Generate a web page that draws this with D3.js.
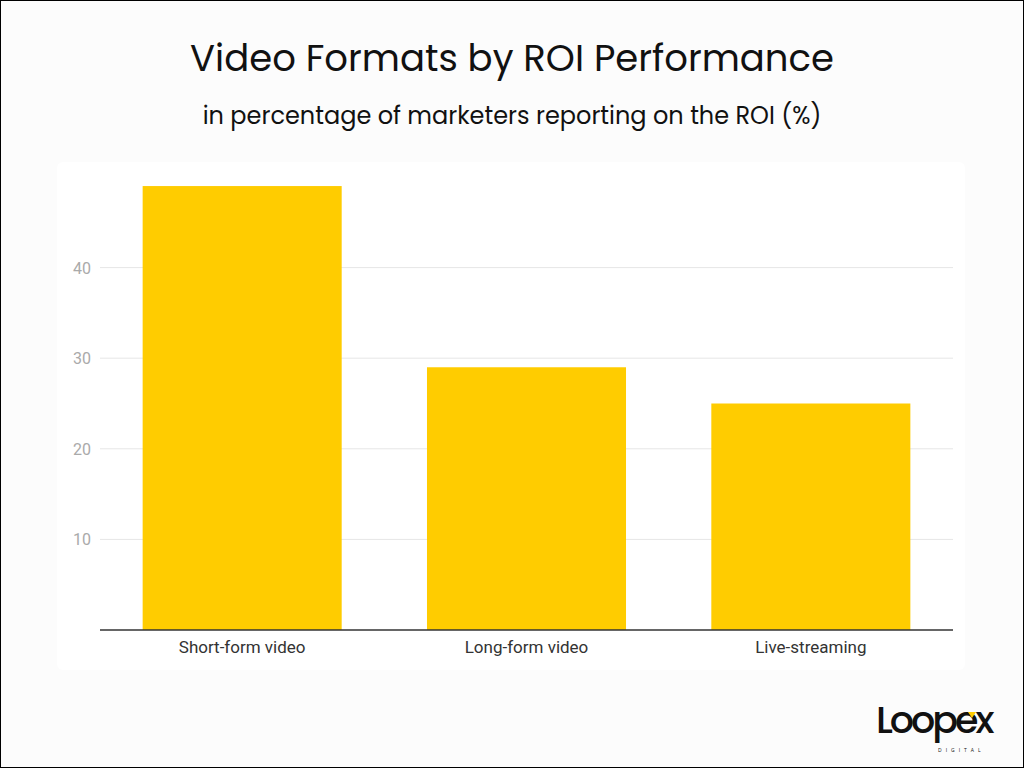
<!DOCTYPE html>
<html><head><meta charset="utf-8">
<script src="https://cdn.jsdelivr.net/npm/d3@7"></script>
<style>body{margin:0;background:#fcfcfc}</style>
</head><body>
<script>
// chart data
const categories = ["Short-form video", "Long-form video", "Live-streaming"];
const values = [49, 29, 25];
const ticks = [10, 20, 30, 40];

const svg = d3.select("body").append("svg")
  .attr("width", 1024).attr("height", 768);

svg.append("rect").attr("x", 0.5).attr("y", 0.5).attr("width", 1023).attr("height", 767)
  .attr("fill", "#fcfcfc").attr("stroke", "#000");

svg.append("text").attr("x", 512).attr("y", 71).attr("text-anchor", "middle")
  .style("font-family", "Poppins, Lato, sans-serif").style("font-size", "37px").attr("fill", "#111")
  .text("Video Formats by ROI Performance");
svg.append("text").attr("x", 512).attr("y", 124).attr("text-anchor", "middle")
  .style("font-family", "Poppins, Lato, sans-serif").style("font-size", "24px").attr("fill", "#111")
  .text("in percentage of marketers reporting on the ROI (%)");

// inner panel
svg.append("rect").attr("x", 57).attr("y", 162).attr("width", 908).attr("height", 508)
  .attr("rx", 6).attr("fill", "#fff");

const x = d3.scaleBand().domain(categories).range([100, 953]).paddingInner(0.3).paddingOuter(0.15);
const y = d3.scaleLinear().domain([0, 50]).range([630, 177]);

const g = svg.append("g");
g.selectAll(".grid").data(ticks).join("line")
  .attr("x1", 100).attr("x2", 953).attr("y1", d => y(d)).attr("y2", d => y(d))
  .attr("stroke", "#e6e6e6");
g.selectAll(".tick").data(ticks).join("text")
  .attr("x", 91).attr("y", d => y(d) + 6).attr("text-anchor", "end")
  .style("font-family", "Roboto, sans-serif").style("font-size", "16px").attr("fill", "#aaa")
  .text(d => d);

g.selectAll(".bar").data(values).join("rect")
  .attr("x", (d, i) => x(categories[i])).attr("width", x.bandwidth())
  .attr("y", d => y(d)).attr("height", d => y(0) - y(d)).attr("fill", "#ffcc00");

g.append("line").attr("x1", 100).attr("x2", 953).attr("y1", y(0)).attr("y2", y(0))
  .attr("stroke", "#333").attr("stroke-width", 1.5);

g.selectAll(".cat").data(categories).join("text")
  .attr("x", d => x(d) + x.bandwidth() / 2).attr("y", 653).attr("text-anchor", "middle")
  .style("font-family", "Roboto, sans-serif").style("font-size", "17px").attr("fill", "#333")
  .text(d => d);

// logo
const lg = svg.append("g");
lg.append("text").attr("x", 876).attr("y", 733)
  .style("font-family", "Poppins, 'Open Sans', sans-serif").style("font-size", "38px")
  .style("font-weight", "500").style("letter-spacing", "-3px").attr("fill", "#111").text("Loopex");
lg.append("polygon").attr("points", "968,712 976,712 972,718").attr("fill", "#ffcc00");
lg.append("text").attr("x", 938).attr("y", 752)
  .style("font-family", "'Open Sans', sans-serif").style("font-size", "5px")
  .style("letter-spacing", "4px").attr("fill", "#111").text("DIGITAL");
</script>
</body></html>
